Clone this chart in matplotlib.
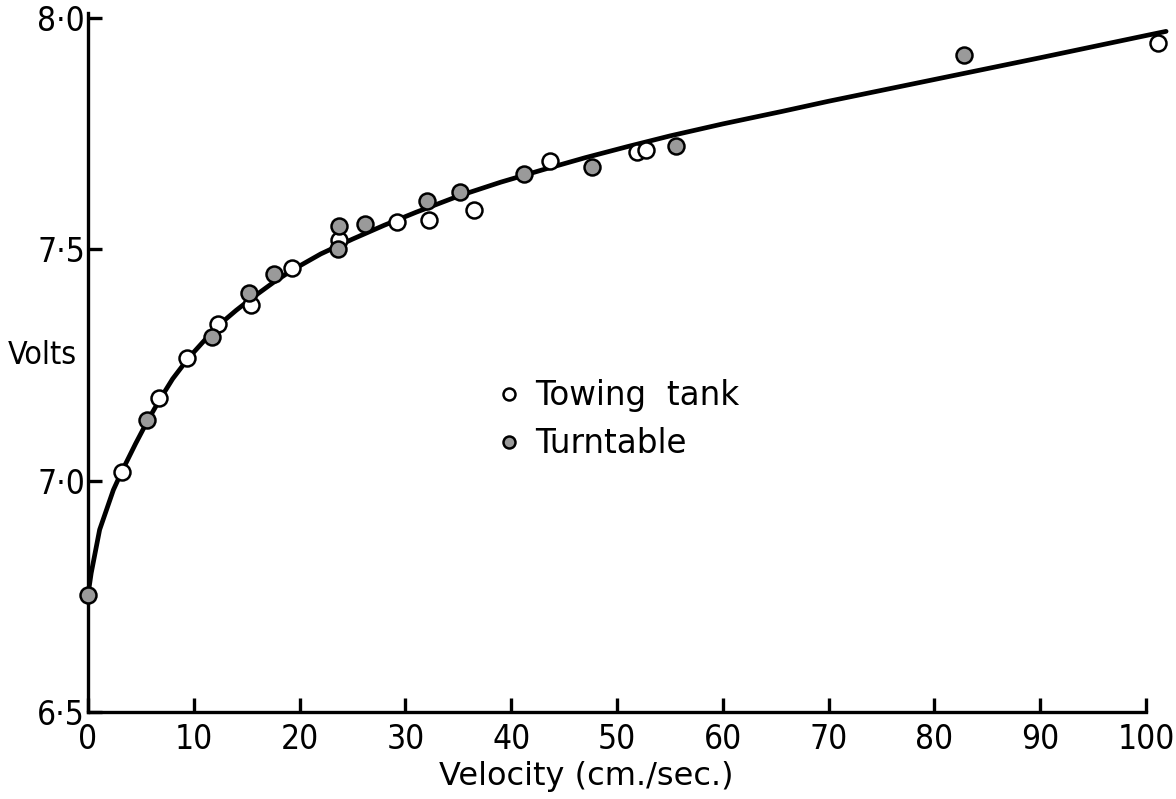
import matplotlib
matplotlib.use("Agg")
import matplotlib.pyplot as plt
from matplotlib import font_manager

# Data
tow_x = [3.2, 6.7, 9.4, 12.3, 15.4, 19.3, 23.7, 29.2, 32.2, 36.5, 43.7, 51.9, 52.7, 101.1]
tow_y = [7.018, 7.178, 7.266, 7.338, 7.380, 7.460, 7.520, 7.558, 7.563, 7.584, 7.690, 7.710, 7.714, 7.946]

turn_x = [0.0, 5.6, 11.75, 15.2, 17.6, 23.6, 23.7, 26.2, 32.0, 35.2, 41.2, 47.6, 55.6, 82.8]
turn_y = [6.753, 7.132, 7.310, 7.405, 7.446, 7.500, 7.550, 7.554, 7.604, 7.623, 7.662, 7.677, 7.723, 7.920]

curve_x = [0.0, 0.3, 1.1, 2.4, 3.2, 4.5, 5.6, 6.7, 8.0, 9.5, 11.0, 12.3, 14.0, 15.4, 17.5,
           19.3, 22.0, 25.0, 28.0, 31.0, 35.0, 39.0, 43.0, 47.0, 51.0, 55.0, 60.0, 65.6,
           70.0, 80.0, 90.0, 100.0, 101.9]
curve_y = [6.753, 6.80, 6.894, 6.98, 7.02, 7.08, 7.128, 7.172, 7.22, 7.265, 7.303, 7.335,
           7.368, 7.393, 7.428, 7.455, 7.49, 7.522, 7.552, 7.58, 7.615, 7.645, 7.672, 7.698,
           7.722, 7.745, 7.771, 7.798, 7.820, 7.867, 7.914, 7.962, 7.971]

x_ticks = [0, 10, 20, 30, 40, 50, 60, 70, 80, 90, 100]
y_ticks = [6.5, 7.0, 7.5, 8.0]
y_labels = ["6\u00b75", "7\u00b70", "7\u00b75", "8\u00b70"]

W, H = 1176, 799
fig = plt.figure(figsize=(W / 100, H / 100), dpi=100)

x0_px, unit_x = 88, 10.58
y0_px, unit_y = 712, 462.7
xmin, xmax = 0, 102.5
ymin, ymax = 6.5, 8.03
left = x0_px / W
width = (xmax - xmin) * unit_x / W
bottom = (H - y0_px) / H
height = (ymax - ymin) * unit_y / H
ax = fig.add_axes([left, bottom, width, height])
ax.set_xlim(xmin, xmax)
ax.set_ylim(ymin, ymax)

ax.plot(curve_x, curve_y, color="black", lw=3.4, solid_capstyle="round",
        solid_joinstyle="round", zorder=2)
ax.plot(tow_x, tow_y, "o", ms=11.5, mfc="white", mec="black", mew=1.8, zorder=3,
        label="Towing  tank", clip_on=False)
ax.plot(turn_x, turn_y, "o", ms=11.5, mfc="#9a9a9a", mec="black", mew=1.8, zorder=3,
        label="Turntable", clip_on=False)

for s in ["top", "right"]:
    ax.spines[s].set_visible(False)
for s in ["left", "bottom"]:
    ax.spines[s].set_linewidth(2.4)
ax.spines["bottom"].set_bounds(0, 100)
ax.spines["left"].set_bounds(6.5, 8.01)

tick_font = font_manager.FontProperties(family="DejaVu Sans", stretch="condensed", size=24)

ax.set_xticks(x_ticks)
ax.set_xticklabels([str(t) for t in x_ticks], fontproperties=tick_font)
ax.set_yticks(y_ticks)
ax.set_yticklabels(y_labels, fontproperties=tick_font)
ax.tick_params(axis="x", direction="in", length=10, width=2.4, pad=8)
ax.tick_params(axis="y", direction="in", length=10, width=2.4, pad=2)

fig.text(586 / W, 1 - 777 / H, "Velocity (cm./sec.)", ha="center", va="center",
         fontsize=23)
fig.text(8 / W, 1 - 355 / H, "Volts", ha="left", va="center", fontsize=23,
         fontstretch="condensed")

leg = ax.legend(loc="upper left", bbox_to_anchor=(470 / W, 1 - 350 / H),
                bbox_transform=fig.transFigure, frameon=False,
                prop=dict(size=23.5),
                markerscale=0.75, handlelength=0.6, handletextpad=0.5, labelspacing=0.45)

fig.savefig("out.png", dpi=100)
